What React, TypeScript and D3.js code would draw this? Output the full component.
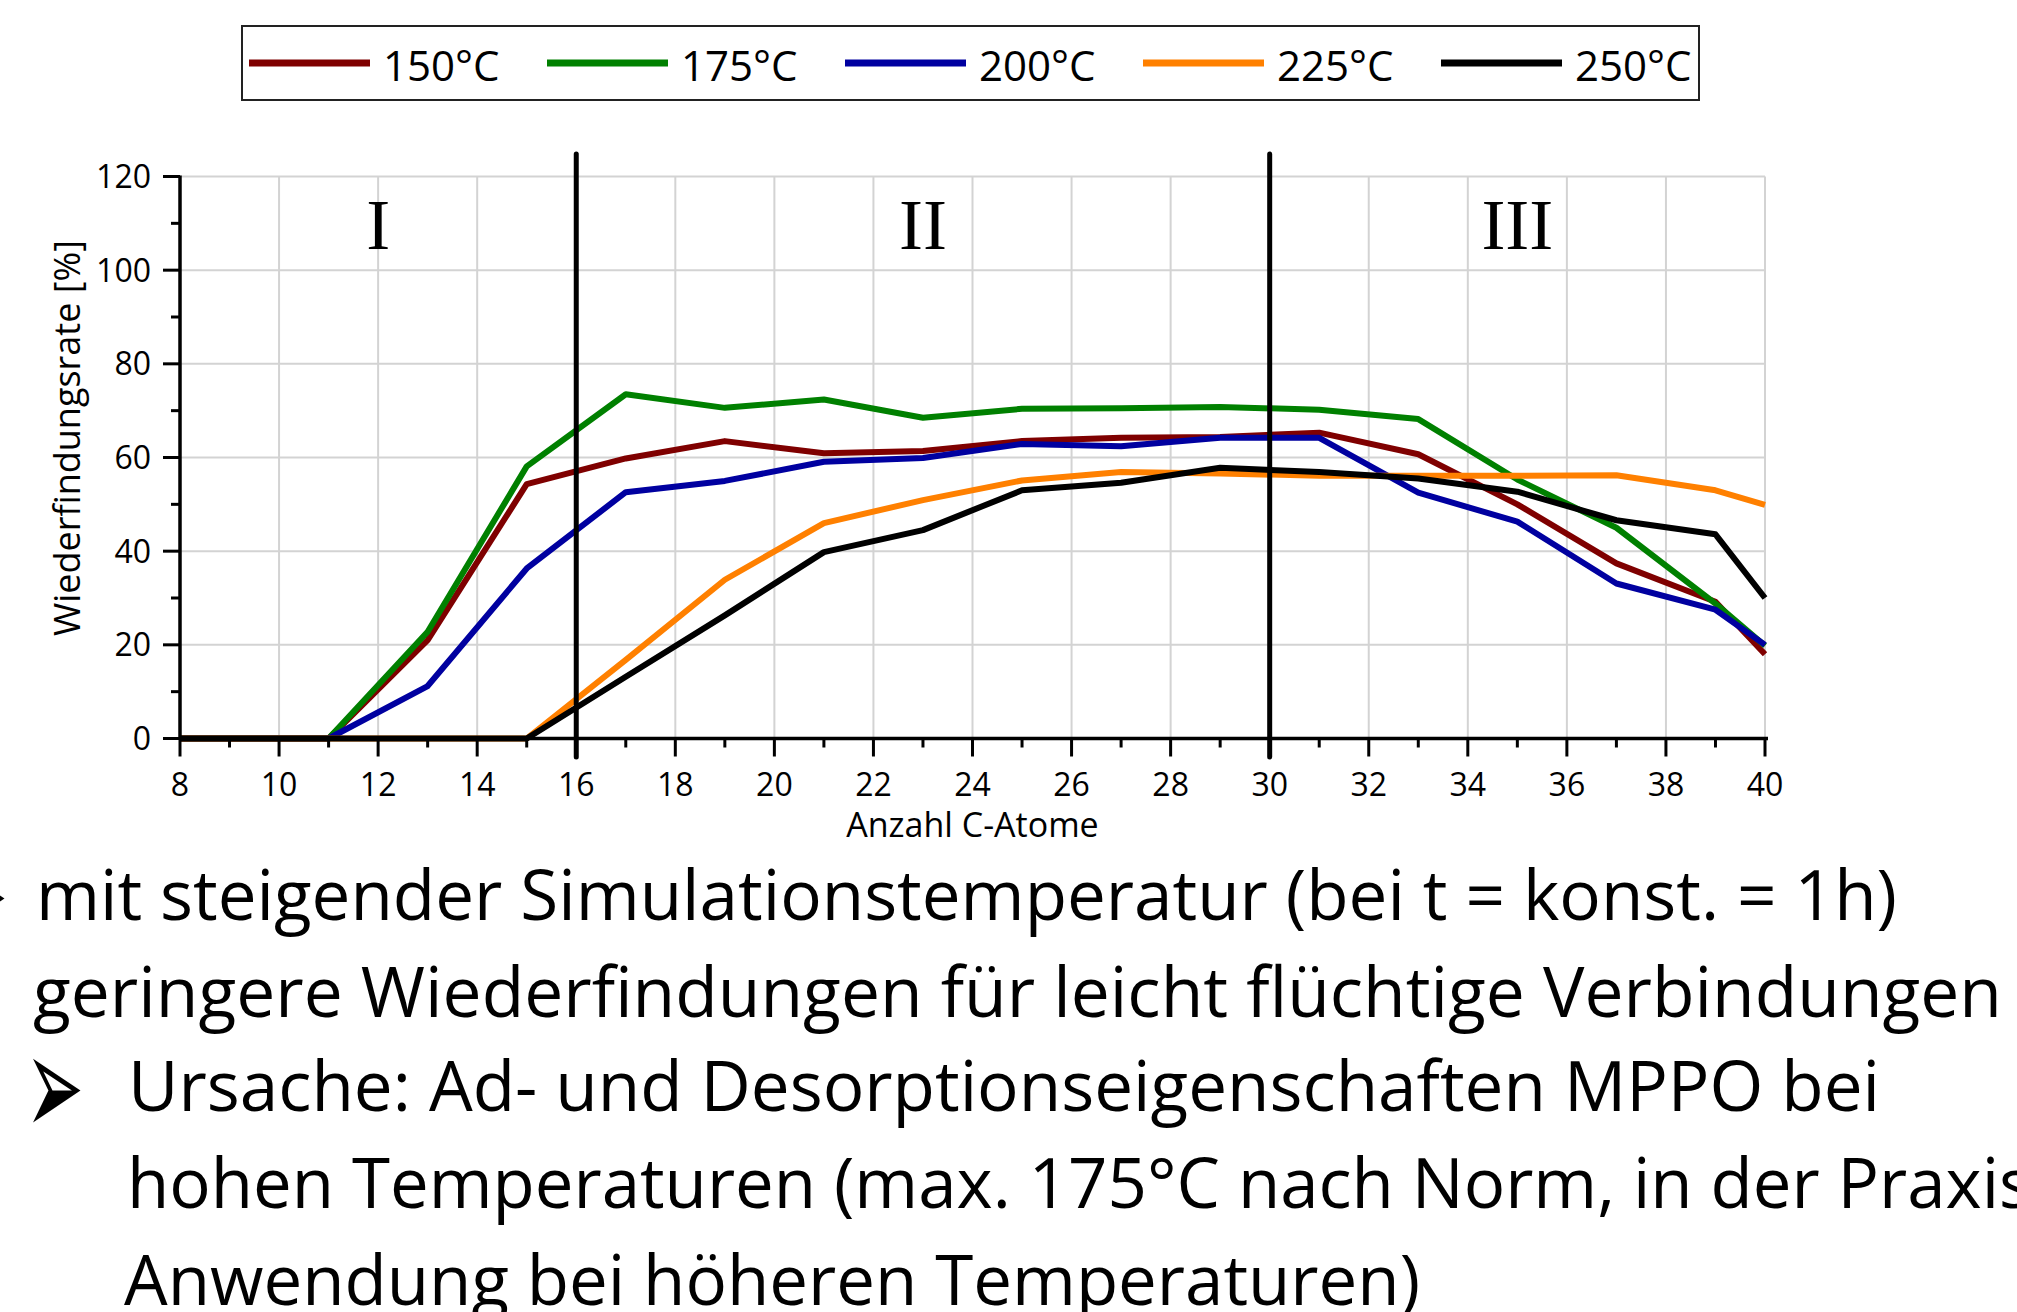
import React from "react";
import * as d3 from "d3";

// C-atom counts (x values)
const cAtoms = [8, 9, 11, 13, 15, 17, 19, 21, 23, 25, 27, 29, 31, 33, 35, 37, 39, 40];

// recovery rates [%] per simulation temperature
const rate150 = [0, 0, 0, 21.0, 54.3, 59.8, 63.5, 60.9, 61.4, 63.5, 64.2, 64.4, 65.3, 60.7, 50.0, 37.4, 29.2, 18.0];
const rate175 = [0, 0, 0, 22.8, 58.1, 73.5, 70.6, 72.4, 68.5, 70.4, 70.5, 70.8, 70.2, 68.2, 55.3, 45.0, 28.8, 19.8];
const rate200 = [0, 0, 0, 11.2, 36.3, 52.6, 55.0, 59.1, 59.9, 62.9, 62.4, 64.2, 64.2, 52.5, 46.3, 33.1, 27.5, 20.0];
const rate225 = [0, 0, 0, 0, 0, 16.8, 33.9, 46.0, 50.9, 55.1, 56.9, 56.6, 56.1, 56.1, 56.1, 56.2, 53.0, 49.9];
const rate250 = [0, 0, 0, 0, 0, 13.2, 26.3, 39.8, 44.5, 53.0, 54.6, 57.8, 56.9, 55.5, 52.7, 46.6, 43.6, 30.0];

const seriesNames = ["150°C", "175°C", "200°C", "225°C", "250°C"];
const seriesValues = [rate150, rate175, rate200, rate225, rate250];
const seriesColors = ["#7f0000", "#008000", "#0000a0", "#ff8000", "#000000"];

// region separators and labels
const separators = [16, 30];
const regionLabels = ["I", "II", "III"];
const regionCenters = [12, 23, 35];

// text below the chart
const bodyLines = [
  "mit steigender Simulationstemperatur (bei t = konst. = 1h)",
  "geringere Wiederfindungen für leicht flüchtige Verbindungen",
  "Ursache: Ad- und Desorptionseigenschaften MPPO bei",
  "hohen Temperaturen (max. 175°C nach Norm, in der Praxis",
  "Anwendung bei höheren Temperaturen)",
];

const W = 2017;
const H = 1312;
const sans = "'Open Sans', sans-serif";

const App = () => {
  // scales
  const x = d3.scaleLinear().domain([8, 40]).range([180, 1765]);
  const y = d3.scaleLinear().domain([0, 120]).range([738.5, 176.5]);

  const xMajor = d3.range(8, 41, 2);
  const xMinor = d3.range(9, 40, 2);
  const yMajor = d3.range(0, 121, 20);
  const yMinor = d3.range(10, 120, 20);

  const line = d3
    .line<number>()
    .x((d, i) => x(cAtoms[i]))
    .y((d) => y(d));

  // body text layout (left edge, width, baseline)
  const bodyLayout = [
    { x: 36, w: 1861, y: 920 },
    { x: 33, w: 1969, y: 1017 },
    { x: 128, w: 1752, y: 1111 },
    { x: 127, w: 1905, y: 1208 },
    { x: 124, w: 1296, y: 1305 },
  ];

  // bullet arrows (right edge, baseline)
  const bullets = [
    { x: 8, y: 944 },
    { x: 84, y: 1136 },
  ];

  return (
    <svg
      width={W}
      height={H}
      style={{ position: "absolute", left: 0, top: 0, background: "#fff" }}
    >
      {/* legend */}
      <rect x={242} y={26} width={1457} height={74} fill="#fff" stroke="#222" strokeWidth={2} />
      {seriesNames.map((name, i) => {
        const lx = 249 + i * 298;
        return (
          <g key={name}>
            <line x1={lx} x2={lx + 121} y1={63} y2={63} stroke={seriesColors[i]} strokeWidth={7} />
            <text x={lx + 134} y={81} fontFamily={sans} fontSize={42} fill="#000">
              {name}
            </text>
          </g>
        );
      })}

      {/* gridlines */}
      {xMajor.slice(1).map((t) => (
        <line key={"gx" + t} x1={x(t)} x2={x(t)} y1={y(120)} y2={y(0)} stroke="#d3d3d3" strokeWidth={2} />
      ))}
      {yMajor.slice(1).map((t) => (
        <line key={"gy" + t} x1={x(8)} x2={x(40)} y1={y(t)} y2={y(t)} stroke="#d3d3d3" strokeWidth={2} />
      ))}

      {/* series */}
      {seriesValues.map((vals, i) => (
        <path
          key={seriesNames[i]}
          d={line(vals) || ""}
          fill="none"
          stroke={seriesColors[i]}
          strokeWidth={6}
          strokeLinejoin="round"
        />
      ))}

      {/* axes */}
      <line x1={x(8)} x2={x(40) + 3} y1={y(0)} y2={y(0)} stroke="#000" strokeWidth={3.5} />
      <line x1={x(8)} x2={x(8)} y1={y(120) - 1} y2={y(0)} stroke="#000" strokeWidth={3.5} />
      {xMajor.map((t) => (
        <line key={"tx" + t} x1={x(t)} x2={x(t)} y1={y(0)} y2={y(0) + 18} stroke="#000" strokeWidth={3} />
      ))}
      {xMinor.map((t) => (
        <line key={"mx" + t} x1={x(t)} x2={x(t)} y1={y(0)} y2={y(0) + 9} stroke="#000" strokeWidth={3} />
      ))}
      {yMajor.map((t) => (
        <line key={"ty" + t} x1={x(8) - 17} x2={x(8)} y1={y(t)} y2={y(t)} stroke="#000" strokeWidth={3} />
      ))}
      {yMinor.map((t) => (
        <line key={"my" + t} x1={x(8) - 9} x2={x(8)} y1={y(t)} y2={y(t)} stroke="#000" strokeWidth={3} />
      ))}

      {/* tick labels */}
      {xMajor.map((t) => (
        <text key={"lx" + t} x={x(t)} y={796} textAnchor="middle" fontFamily={sans} fontSize={32} fill="#000">
          {t}
        </text>
      ))}
      {yMajor.map((t) => (
        <text key={"ly" + t} x={151} y={y(t)} dy="0.36em" textAnchor="end" fontFamily={sans} fontSize={32} fill="#000">
          {t}
        </text>
      ))}

      {/* axis titles */}
      <text x={(x(8) + x(40)) / 2} y={837} textAnchor="middle" fontFamily={sans} fontSize={34} fill="#000">
        Anzahl C-Atome
      </text>
      <text
        transform="translate(80,438) rotate(-90)"
        textAnchor="middle"
        fontFamily={sans}
        fontSize={36}
        fill="#000"
      >
        Wiederfindungsrate [%]
      </text>

      {/* region separators */}
      {separators.map((s) => (
        <line key={"sep" + s} x1={x(s)} x2={x(s)} y1={154} y2={757} stroke="#000" strokeWidth={5} strokeLinecap="round" />
      ))}
      {regionLabels.map((lbl, i) => (
        <text
          key={lbl}
          x={x(regionCenters[i])}
          y={249}
          textAnchor="middle"
          fontFamily="'Liberation Serif', serif"
          fontSize={72}
          fill="#000"
        >
          {lbl}
        </text>
      ))}

      {/* bullets */}
      {bullets.map((b, i) => (
        <text
          key={"b" + i}
          transform={`translate(${b.x},${b.y}) scale(1,2.07)`}
          textAnchor="end"
          fontFamily="'DejaVu Sans'"
          fontSize={70}
          fill="#000"
        >
          ➢
        </text>
      ))}

      {/* body text */}
      {bodyLines.map((txt, i) => (
        <text
          key={i}
          x={bodyLayout[i].x}
          y={bodyLayout[i].y}
          textLength={bodyLayout[i].w}
          lengthAdjust="spacingAndGlyphs"
          fontFamily={sans}
          fontSize={70}
          fill="#000"
        >
          {txt}
        </text>
      ))}
    </svg>
  );
};

export default App;
